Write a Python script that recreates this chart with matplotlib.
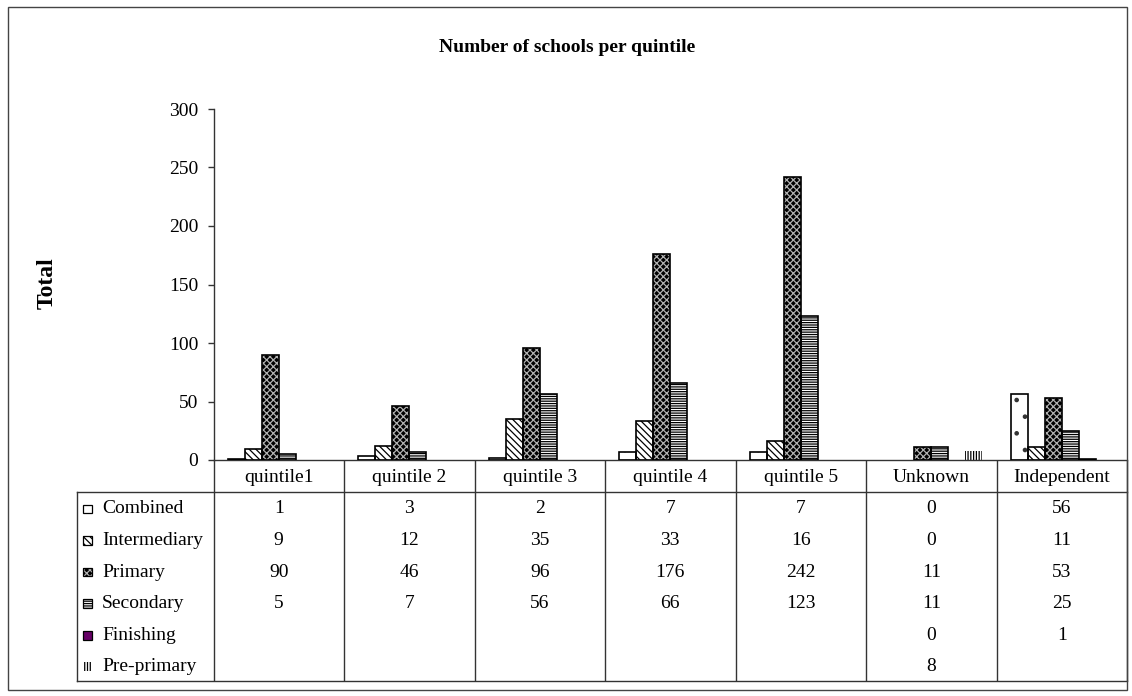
import matplotlib
matplotlib.use("Agg")
import matplotlib.pyplot as plt
from matplotlib.patches import Rectangle

plt.rcParams["font.family"] = ["Liberation Serif", "DejaVu Serif"]
plt.rcParams["hatch.linewidth"] = 0.9

# ---- data -------------------------------------------------------------
categories = ["quintile1", "quintile 2", "quintile 3", "quintile 4",
              "quintile 5", "Unknown", "Independent"]
series_names = ["Combined", "Intermediary", "Primary", "Secondary",
                "Finishing", "Pre-primary"]
combined = [1, 3, 2, 7, 7, 0, 56]
intermediary = [9, 12, 35, 33, 16, 0, 11]
primary = [90, 46, 96, 176, 242, 11, 53]
secondary = [5, 7, 56, 66, 123, 11, 25]
finishing = [None, None, None, None, None, 0, 1]
pre_primary = [None, None, None, None, None, 8, None]
series_values = [combined, intermediary, primary, secondary, finishing, pre_primary]
y_ticks = [0, 50, 100, 150, 200, 250, 300]

# ---- styles: (face colour, hatch, hatch colour) -------------------------
styles = [
    ("white", ".", "#333333"),
    ("white", "\\\\\\\\\\", "black"),
    ("black", "xxxxx", "#b0b0b0"),
    ("white", "-------", "black"),
    ("#660066", "", "#660066"),
    ("white", "||||||", "black"),
]

W, H = 1132, 696
fig = plt.figure(figsize=(W / 100, H / 100), dpi=100)


def fx(px):
    return px / W


def fy(py):
    return 1 - py / H


# outer chart border
fig.patches.append(Rectangle((fx(8), fy(690)), fx(1127) - fx(8), fy(7) - fy(690),
                             transform=fig.transFigure, fill=False,
                             edgecolor="#444444", linewidth=1.0))

FS = 14

# ---- main bar axes ----------------------------------------------------
ax_l, ax_r, ax_t, ax_b = 213.5, 1127, 109, 460
ax = fig.add_axes([fx(ax_l), fy(ax_b), fx(ax_r) - fx(ax_l), fy(ax_t) - fy(ax_b)])
n_cat = len(categories)
n_ser = len(series_names)
bar_w = 0.13
for s, vals in enumerate(series_values):
    face, hatch, hcol = styles[s]
    offs = (s - (n_ser - 1) / 2) * bar_w
    xs = [i + offs for i, v in enumerate(vals) if v]
    hs = [v for v in vals if v]
    if not xs:
        continue
    ax.bar(xs, hs, width=bar_w, color=face, hatch=hatch, edgecolor=hcol,
           linewidth=0, zorder=2)
    outline = "black" if s != 5 else "none"
    ax.bar(xs, hs, width=bar_w, fill=False, edgecolor=outline,
           linewidth=1.2, zorder=3)

ax.set_xlim(-0.5, n_cat - 0.5)
ax.set_ylim(0, 300)
ax.set_yticks(y_ticks)
ax.set_xticks([])
ax.tick_params(axis="y", direction="out", length=4, width=1, pad=7,
               labelsize=FS, color="#333333")
for side in ("top", "right"):
    ax.spines[side].set_visible(False)
ax.spines["left"].set_color("#333333")
ax.spines["bottom"].set_color("#333333")
ax.spines["left"].set_linewidth(1)
ax.spines["bottom"].set_linewidth(1)

fig.text(fx(567), fy(47), "Number of schools per quintile", ha="center",
         va="center", fontsize=14, fontweight="bold")
fig.text(fx(47), fy(283), "Total", ha="center", va="center", rotation=90,
         fontsize=17, fontweight="bold")

# ---- data table below the axis ----------------------------------------
tb_l, tb_r, tb_t, tb_b = 77, 1127, 460, 681
col_w = (ax_r - ax_l) / n_cat
label_w = (ax_l - tb_l) / col_w
tax = fig.add_axes([fx(tb_l), fy(tb_b), fx(tb_r) - fx(tb_l), fy(tb_t) - fy(tb_b)])
tax.set_xlim(-0.5 - label_w, n_cat - 0.5)
tax.set_ylim(n_ser, -1)
tax.axis("off")
lc = "#333333"
lw = 1.0
x_left = -0.5 - label_w
for i in range(n_cat + 1):
    tax.plot([i - 0.5, i - 0.5], [-1, n_ser], color=lc, lw=lw,
             solid_capstyle="butt", clip_on=False)
tax.plot([x_left, n_cat - 0.5], [0, 0], color=lc, lw=lw, clip_on=False)
tax.plot([x_left, n_cat - 0.5], [n_ser, n_ser], color=lc, lw=lw, clip_on=False)
tax.plot([x_left, x_left], [0, n_ser], color=lc, lw=lw, clip_on=False)

for i, cat in enumerate(categories):
    tax.text(i, -0.45, cat, ha="center", va="center", fontsize=FS)

key_w = 9 / col_w
for s, name in enumerate(series_names):
    yc = s + 0.55
    face, hatch, hcol = styles[s]
    kx = x_left + 6 / col_w
    key_h = 0.28
    tax.add_patch(Rectangle((kx, yc - key_h / 2), key_w, key_h, facecolor=face,
                            hatch=hatch, edgecolor=hcol, linewidth=0))
    tax.add_patch(Rectangle((kx, yc - key_h / 2), key_w, key_h, fill=False,
                            edgecolor="black" if s != 5 else "none",
                            linewidth=0.9))
    tax.text(x_left + 25 / col_w, yc, name, ha="left", va="center",
             fontsize=FS)
    for i, v in enumerate(series_values[s]):
        if v is not None:
            tax.text(i, yc, str(v), ha="center", va="center", fontsize=FS)

fig.savefig("out.png", dpi=100)
